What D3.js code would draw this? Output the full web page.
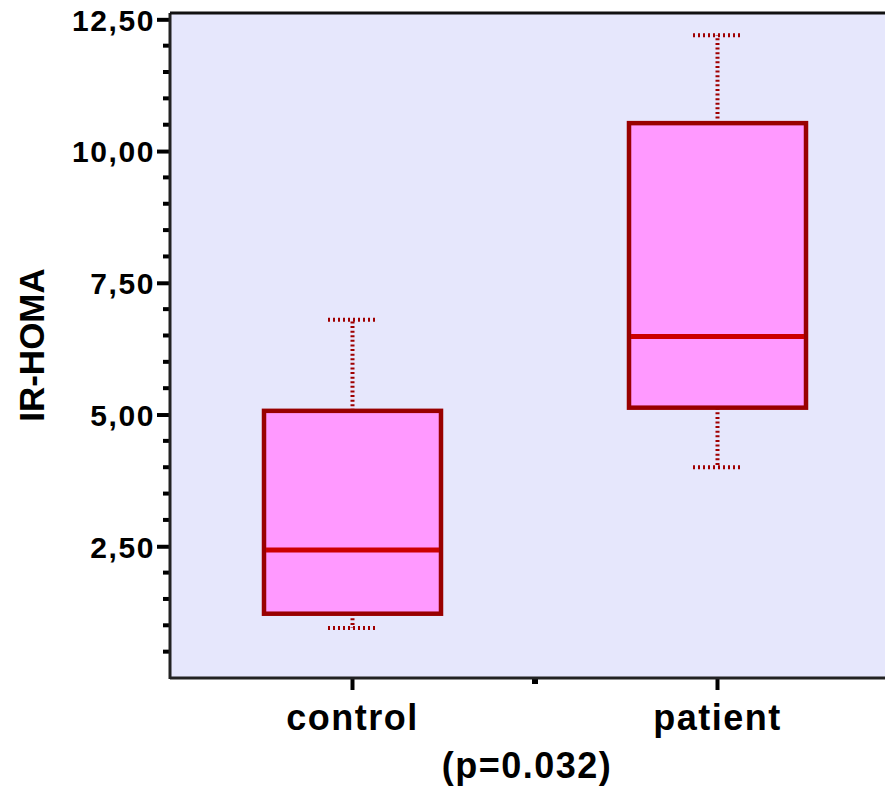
<!DOCTYPE html>
<html>
<head>
<meta charset="utf-8">
<script src="https://cdn.jsdelivr.net/npm/d3@7"></script>
<style>
  body { margin: 0; background: #fff; }
  svg { display: block; font-family: "Liberation Sans", Arial, sans-serif; font-weight: bold; }
</style>
</head>
<body>
<svg id="chart" width="885" height="789"></svg>
<script>
// values
var groups = ["control", "patient"];
var lowWhisker = [0.95, 4.0];
var q1 = [1.22, 5.13];
var medians = [2.43, 6.48];
var q3 = [5.07, 10.53];
var highWhisker = [6.8, 12.2];
var yTicks = [2.5, 5, 7.5, 10, 12.5];
var minorTicks = [0.5, 1, 1.5, 2, 3, 3.5, 4, 4.5, 5.5, 6, 6.5, 7, 8, 8.5, 9, 9.5, 10.5, 11, 11.5, 12];

var svg = d3.select("#chart");

var margins = { top: 13, left: 170, bottom: 111, right: -15 };
var width = 885 - margins.left - margins.right;
var height = 789 - margins.top - margins.bottom;

var xScale = d3.scaleBand().domain(groups).range([0, width]);
var yScale = d3.scaleLinear().domain([0, 12.62]).range([height, 0]);

var g = svg.append("g")
	.attr("transform", "translate(" + margins.left + "," + margins.top + ")");

// plot background
g.append("rect")
	.attr("x", 0).attr("y", 0)
	.attr("width", width).attr("height", height)
	.attr("fill", "#e6e7fc");

// minor ticks
g.selectAll(".minor").data(minorTicks).enter().append("line")
	.attr("class", "minor")
	.attr("x1", -7).attr("x2", 0)
	.attr("y1", function(d) { return yScale(d); })
	.attr("y2", function(d) { return yScale(d); })
	.attr("stroke", "#000").attr("stroke-width", 4);

// y axis
var yAxis = g.append("g")
	.call(d3.axisLeft(yScale).tickValues(yTicks).tickSize(13).tickPadding(2)
		.tickFormat(function(d) { return d3.format(".2f")(d).replace(".", ","); }));
yAxis.select(".domain").remove();
yAxis.selectAll(".tick line").attr("stroke", "#000").attr("stroke-width", 4);
yAxis.selectAll(".tick text")
	.attr("fill", "#000")
	.style("font-size", "30px")
	.style("letter-spacing", "1.6px")
	.attr("dy", "0.36em");

// x axis ticks
var xAxis = g.append("g")
	.attr("transform", "translate(0," + height + ")")
	.call(d3.axisBottom(xScale).tickSize(12).tickPadding(14));
xAxis.select(".domain").remove();
xAxis.selectAll(".tick line").attr("stroke", "#000").attr("stroke-width", 4);
xAxis.selectAll(".tick text")
	.attr("fill", "#000")
	.style("font-size", "36px")
	.style("letter-spacing", "1.5px");

// small tick between categories
g.append("line")
	.attr("x1", xScale("patient")).attr("x2", xScale("patient"))
	.attr("y1", height).attr("y2", height + 6)
	.attr("stroke", "#000").attr("stroke-width", 6);

// axis lines
g.append("line")
	.attr("x1", 0).attr("x2", 0).attr("y1", 0).attr("y2", height + 1)
	.attr("stroke", "#222").attr("stroke-width", 3);
g.append("line")
	.attr("x1", 0).attr("x2", width).attr("y1", height).attr("y2", height)
	.attr("stroke", "#222").attr("stroke-width", 3);
g.append("line")
	.attr("x1", 0).attr("x2", width).attr("y1", 0).attr("y2", 0)
	.attr("stroke", "#111").attr("stroke-width", 3);

// boxes
var boxW = 177;
var capW = 49;
var boxes = g.selectAll(".box").data(groups).enter().append("g")
	.attr("class", "box")
	.attr("transform", function(d) { return "translate(" + (xScale(d) + xScale.bandwidth() / 2) + ",0)"; });

// whiskers
boxes.append("line")
	.attr("x1", 0).attr("x2", 0)
	.attr("y1", function(d, i) { return yScale(q3[i]); })
	.attr("y2", function(d, i) { return yScale(highWhisker[i]); })
	.attr("stroke", "#a00000").attr("stroke-width", 4).attr("stroke-dasharray", "2,2.6");
boxes.append("line")
	.attr("x1", 0).attr("x2", 0)
	.attr("y1", function(d, i) { return yScale(q1[i]); })
	.attr("y2", function(d, i) { return yScale(lowWhisker[i]); })
	.attr("stroke", "#a00000").attr("stroke-width", 4).attr("stroke-dasharray", "2,2.6");
boxes.append("line")
	.attr("x1", -capW / 2).attr("x2", capW / 2)
	.attr("y1", function(d, i) { return yScale(highWhisker[i]); })
	.attr("y2", function(d, i) { return yScale(highWhisker[i]); })
	.attr("stroke", "#a00000").attr("stroke-width", 4).attr("stroke-dasharray", "2,3");
boxes.append("line")
	.attr("x1", -capW / 2).attr("x2", capW / 2)
	.attr("y1", function(d, i) { return yScale(lowWhisker[i]); })
	.attr("y2", function(d, i) { return yScale(lowWhisker[i]); })
	.attr("stroke", "#a00000").attr("stroke-width", 4).attr("stroke-dasharray", "2,3");

boxes.append("rect")
	.attr("x", -boxW / 2)
	.attr("width", boxW)
	.attr("y", function(d, i) { return yScale(q3[i]); })
	.attr("height", function(d, i) { return yScale(q1[i]) - yScale(q3[i]); })
	.attr("fill", "#ff99ff")
	.attr("stroke", "#990000").attr("stroke-width", 4.5);

boxes.append("line")
	.attr("x1", -boxW / 2 + 2).attr("x2", boxW / 2 - 2)
	.attr("y1", function(d, i) { return yScale(medians[i]); })
	.attr("y2", function(d, i) { return yScale(medians[i]); })
	.attr("stroke", "#cc0000").attr("stroke-width", 5);

// labels
svg.append("text")
	.attr("transform", "translate(44,345) rotate(-90)")
	.attr("text-anchor", "middle")
	.style("font-size", "35px")
	.text("IR-HOMA");

svg.append("text")
	.attr("x", 527).attr("y", 778)
	.attr("text-anchor", "middle")
	.style("font-size", "36px")
	.style("letter-spacing", "1.5px")
	.text("(p=0.032)");
</script>
</body>
</html>
